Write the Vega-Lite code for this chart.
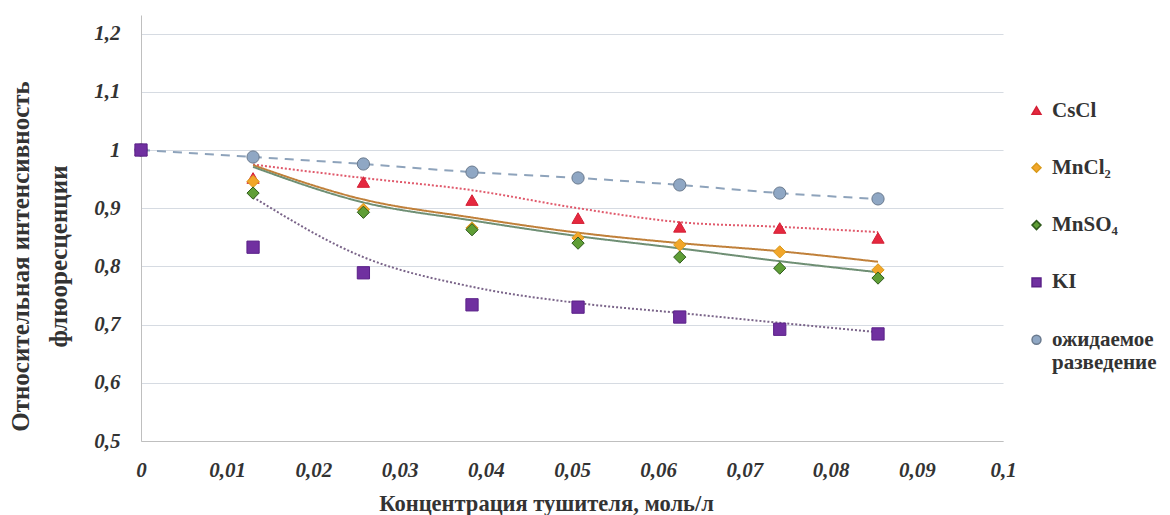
{
  "$schema": "https://vega.github.io/schema/vega-lite/v6.json",
  "width": 862,
  "height": 426,
  "autosize": {"type": "none"},
  "padding": {"left": 141, "top": 15, "right": 167, "bottom": 74},
  "background": "white",
  "config": {
    "view": {"stroke": null}, "font": "Liberation Serif, DejaVu Serif, serif"
  },
  "datasets": {
    "points": [
      {"series": "ожидаемое разведение", "x": 0, "y": 1.0},
      {"series": "ожидаемое разведение", "x": 0.013, "y": 0.988},
      {"series": "ожидаемое разведение", "x": 0.0258, "y": 0.976},
      {"series": "ожидаемое разведение", "x": 0.0384, "y": 0.962},
      {"series": "ожидаемое разведение", "x": 0.0507, "y": 0.952},
      {"series": "ожидаемое разведение", "x": 0.0625, "y": 0.94},
      {"series": "ожидаемое разведение", "x": 0.0741, "y": 0.926},
      {"series": "ожидаемое разведение", "x": 0.0855, "y": 0.916},
      {"series": "CsCl", "x": 0, "y": 1.0},
      {"series": "CsCl", "x": 0.013, "y": 0.952},
      {"series": "CsCl", "x": 0.0258, "y": 0.945},
      {"series": "CsCl", "x": 0.0384, "y": 0.914},
      {"series": "CsCl", "x": 0.0507, "y": 0.883},
      {"series": "CsCl", "x": 0.0625, "y": 0.868},
      {"series": "CsCl", "x": 0.0741, "y": 0.866},
      {"series": "CsCl", "x": 0.0855, "y": 0.849},
      {"series": "MnCl₂", "x": 0, "y": 1.0},
      {"series": "MnCl₂", "x": 0.013, "y": 0.946},
      {"series": "MnCl₂", "x": 0.0258, "y": 0.898},
      {"series": "MnCl₂", "x": 0.0384, "y": 0.866},
      {"series": "MnCl₂", "x": 0.0507, "y": 0.849},
      {"series": "MnCl₂", "x": 0.0625, "y": 0.837},
      {"series": "MnCl₂", "x": 0.0741, "y": 0.825},
      {"series": "MnCl₂", "x": 0.0855, "y": 0.794},
      {"series": "MnSO₄", "x": 0, "y": 1.0},
      {"series": "MnSO₄", "x": 0.013, "y": 0.926},
      {"series": "MnSO₄", "x": 0.0258, "y": 0.893},
      {"series": "MnSO₄", "x": 0.0384, "y": 0.863},
      {"series": "MnSO₄", "x": 0.0507, "y": 0.84},
      {"series": "MnSO₄", "x": 0.0625, "y": 0.816},
      {"series": "MnSO₄", "x": 0.0741, "y": 0.797},
      {"series": "MnSO₄", "x": 0.0855, "y": 0.78},
      {"series": "KI", "x": 0, "y": 1.0},
      {"series": "KI", "x": 0.013, "y": 0.833},
      {"series": "KI", "x": 0.0258, "y": 0.789},
      {"series": "KI", "x": 0.0384, "y": 0.734},
      {"series": "KI", "x": 0.0507, "y": 0.73},
      {"series": "KI", "x": 0.0625, "y": 0.713},
      {"series": "KI", "x": 0.0741, "y": 0.692},
      {"series": "KI", "x": 0.0855, "y": 0.684}
    ],
    "trend": [
      {"line": "ожидаемое разведение", "x": 0, "y": 1.0},
      {"line": "ожидаемое разведение", "x": 0.013, "y": 0.988},
      {"line": "ожидаемое разведение", "x": 0.0258, "y": 0.976},
      {"line": "ожидаемое разведение", "x": 0.0384, "y": 0.962},
      {"line": "ожидаемое разведение", "x": 0.0507, "y": 0.952},
      {"line": "ожидаемое разведение", "x": 0.0625, "y": 0.94},
      {"line": "ожидаемое разведение", "x": 0.0741, "y": 0.926},
      {"line": "ожидаемое разведение", "x": 0.0855, "y": 0.916},
      {"line": "CsCl", "x": 0.013, "y": 0.975},
      {"line": "CsCl", "x": 0.0258, "y": 0.952},
      {"line": "CsCl", "x": 0.0384, "y": 0.931},
      {"line": "CsCl", "x": 0.0507, "y": 0.9},
      {"line": "CsCl", "x": 0.0625, "y": 0.876},
      {"line": "CsCl", "x": 0.0741, "y": 0.868},
      {"line": "CsCl", "x": 0.0855, "y": 0.859},
      {"line": "MnCl₂", "x": 0.013, "y": 0.974},
      {"line": "MnCl₂", "x": 0.0258, "y": 0.915},
      {"line": "MnCl₂", "x": 0.0384, "y": 0.884},
      {"line": "MnCl₂", "x": 0.0507, "y": 0.858},
      {"line": "MnCl₂", "x": 0.0625, "y": 0.84},
      {"line": "MnCl₂", "x": 0.0741, "y": 0.826},
      {"line": "MnCl₂", "x": 0.0855, "y": 0.808},
      {"line": "MnSO₄", "x": 0.013, "y": 0.971},
      {"line": "MnSO₄", "x": 0.0258, "y": 0.91},
      {"line": "MnSO₄", "x": 0.0384, "y": 0.879},
      {"line": "MnSO₄", "x": 0.0507, "y": 0.852},
      {"line": "MnSO₄", "x": 0.0625, "y": 0.831},
      {"line": "MnSO₄", "x": 0.0741, "y": 0.809},
      {"line": "MnSO₄", "x": 0.0855, "y": 0.79},
      {"line": "KI", "x": 0.013, "y": 0.919},
      {"line": "KI", "x": 0.0258, "y": 0.816},
      {"line": "KI", "x": 0.0384, "y": 0.765},
      {"line": "KI", "x": 0.0507, "y": 0.737},
      {"line": "KI", "x": 0.0625, "y": 0.72},
      {"line": "KI", "x": 0.0741, "y": 0.703},
      {"line": "KI", "x": 0.0855, "y": 0.687}
    ]
  },
  "layer": [
    {
      "data": {"name": "trend"},
      "mark": {"type": "line", "interpolate": "monotone", "strokeWidth": 2},
      "encoding": {
        "x": {
          "field": "x", "type": "quantitative",
          "scale": {"domain": [0, 0.1], "nice": false, "zero": false},
          "axis": {
            "values": [0, 0.01, 0.02, 0.03, 0.04, 0.05, 0.06, 0.07, 0.08, 0.09, 0.1],
            "labelExpr": "replace(format(datum.value, '.2~f'), '.', ',')",
            "grid": false, "ticks": false,
            "domainColor": "#bfbfbf", "domainWidth": 1,
            "labelFont": "Liberation Serif, DejaVu Serif, serif", "labelFontSize": 21, "labelFontWeight": "bold", "labelFontStyle": "italic", "labelColor": "#333333",
            "labelPadding": 18, "labelFlush": false,
            "title": "Концентрация тушителя, моль/л",
            "titleFont": "Liberation Serif, DejaVu Serif, serif", "titleFontSize": 22.5, "titleFontWeight": "bold", "titleColor": "#333333",
            "titleX": 405, "titleY": 62, "titleAlign": "center", "titleBaseline": "middle"
          }
        },
        "y": {
          "field": "y", "type": "quantitative",
          "scale": {"domain": [0.5, 1.232], "nice": false, "zero": false},
          "axis": {
            "values": [0.5, 0.6, 0.7, 0.8, 0.9, 1.0, 1.1, 1.2],
            "labelExpr": "replace(format(datum.value, '.1~f'), '.', ',')",
            "grid": true, "gridColor": "#d6dbe2", "gridWidth": 1.2,
            "ticks": false, "domainColor": "#bfbfbf",
            "labelFont": "Liberation Serif, DejaVu Serif, serif", "labelFontSize": 21, "labelFontWeight": "bold", "labelFontStyle": "italic", "labelColor": "#333333",
            "labelPadding": 21,
            "title": ["Относительная интенсивность", "флюоресценции"],
            "titleFont": "Liberation Serif, DejaVu Serif, serif", "titleFontSize": 25, "titleFontWeight": "bold", "titleColor": "#333333",
            "titleAngle": -90, "titleX": -121, "titleY": 241, "titleAlign": "center", "titleBaseline": "middle", "titleLineHeight": 38
          }
        },
        "color": {
          "field": "line", "type": "nominal", "legend": null,
          "scale": {
            "domain": ["ожидаемое разведение", "CsCl", "MnCl₂", "MnSO₄", "KI"],
            "range": ["#8ea3bb", "#e05a6c", "#c0803a", "#6f8f74", "#7a6489"]
          }
        },
        "strokeDash": {
          "field": "line", "type": "nominal", "legend": null,
          "scale": {
            "domain": ["ожидаемое разведение", "CsCl", "MnCl₂", "MnSO₄", "KI"],
            "range": [[9, 7], [2, 2], [1, 0], [1, 0], [2, 2]]
          }
        }
      }
    },
    {
      "data": {"name": "points"},
      "mark": {"type": "point", "filled": true, "opacity": 1, "size": 150, "strokeWidth": 1},
      "encoding": {
        "x": {"field": "x", "type": "quantitative"},
        "y": {"field": "y", "type": "quantitative"},
        "fill": {
          "field": "series", "type": "nominal",
          "scale": {
            "domain": ["CsCl", "MnCl₂", "MnSO₄", "KI", "ожидаемое разведение"],
            "range": ["#e5283f", "#f2a62a", "#5f9e36", "#7030a0", "#8fa7c4"]
          },
          "legend": {
            "title": null, "orient": "none", "legendX": 885, "legendY": 85, "padding": 0, "rowPadding": 35.3, "symbolSize": 80, "labelOffset": 5,
            "labelFont": "Liberation Serif, DejaVu Serif, serif", "labelFontSize": 21, "labelFontWeight": "bold", "labelColor": "#333333", "labelLimit": 300,
            "labelExpr": "datum.label === 'ожидаемое разведение' ? ['ожидаемое', 'разведение'] : datum.label"
          }
        },
        "shape": {
          "field": "series", "type": "nominal",
          "scale": {
            "domain": ["CsCl", "MnCl₂", "MnSO₄", "KI", "ожидаемое разведение"],
            "range": ["triangle-up", "diamond", "diamond", "square", "circle"]
          }
        },
        "stroke": {
          "field": "series", "type": "nominal",
          "scale": {
            "domain": ["CsCl", "MnCl₂", "MnSO₄", "KI", "ожидаемое разведение"],
            "range": ["#d42035", "#d99a1a", "#2e5a1c", "#5a2088", "#6a7a8e"]
          }
        }
      }
    }
  ]
}
